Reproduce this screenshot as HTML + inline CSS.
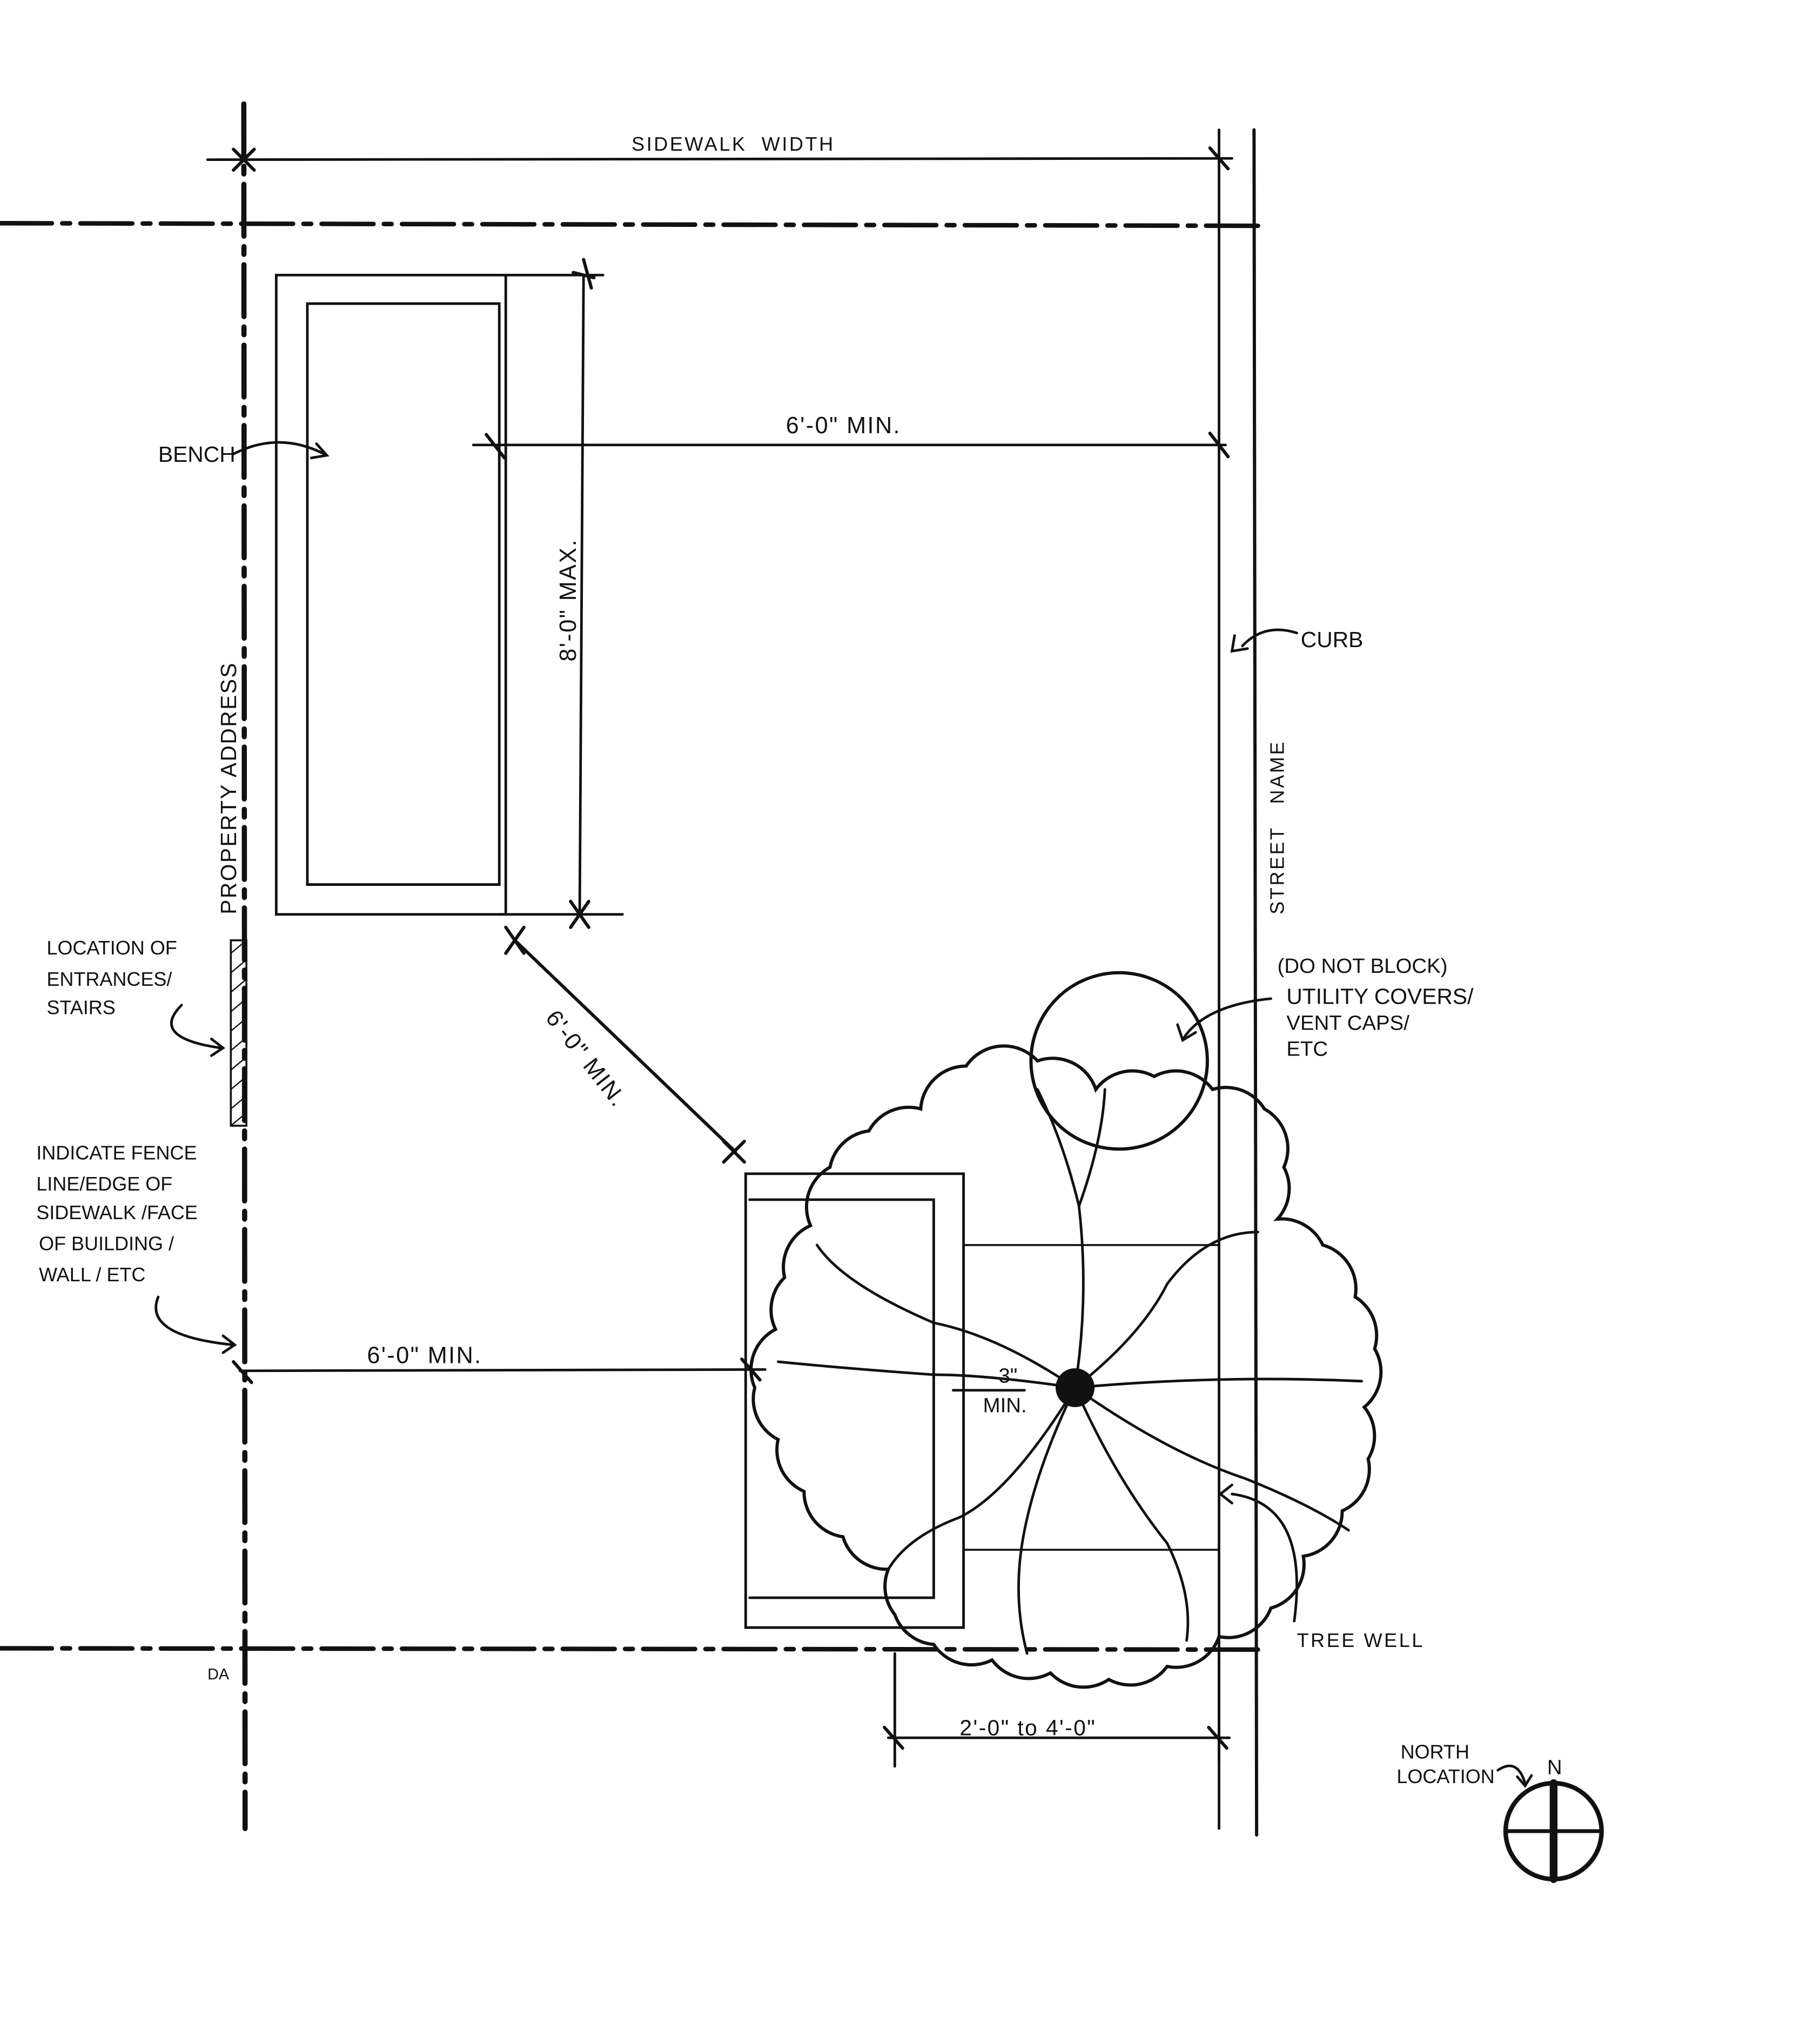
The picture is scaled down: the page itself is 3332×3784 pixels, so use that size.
<!DOCTYPE html>
<html><head><meta charset="utf-8">
<style>
html,body{margin:0;padding:0;background:#fff;}
svg{display:block;}
text{font-family:"Liberation Sans",sans-serif;fill:#111;}
</style></head>
<body>
<svg width="3332" height="3784" viewBox="0 0 1388 1576" xmlns="http://www.w3.org/2000/svg">
<rect width="1388" height="1576" fill="#fff"/>
<g stroke="#111" fill="none" stroke-linecap="round">
<line x1="188" y1="80" x2="189" y2="1410" stroke-width="4" stroke-dasharray="40,8,6,8"/>
<line x1="940" y1="100" x2="940" y2="1410" stroke-width="2"/>
<line x1="967" y1="100" x2="969" y2="1415" stroke-width="2.5"/>
<line x1="0" y1="172" x2="975" y2="174" stroke-width="3.5" stroke-dasharray="40,8,6,8"/>
<line x1="0" y1="1271" x2="970" y2="1272" stroke-width="3.5" stroke-dasharray="40,8,6,8"/>
<line x1="160" y1="123" x2="950" y2="122" stroke-width="2"/>
<path d="M180 115 l16 16 M180 131 l16 -16 M933 114 l14 16" stroke-width="2.5"/>
<path d="M213 705 V212 H390 V705 Z" stroke-width="2"/>
<path d="M237 682 V234 H385 V682 Z" stroke-width="2"/>
<line x1="450" y1="212" x2="447" y2="705" stroke-width="2"/>
<line x1="390" y1="212" x2="465" y2="212" stroke-width="2"/>
<line x1="385" y1="705" x2="480" y2="705" stroke-width="2"/>
<path d="M450 200 l6 22 M442 210 l16 4 M440 695 l14 20 M440 715 l14 -20" stroke-width="2.5"/>
<line x1="365" y1="343" x2="945" y2="343" stroke-width="2"/>
<path d="M375 335 l14 18 M933 334 l14 18" stroke-width="2.5"/>
<line x1="397" y1="725" x2="567" y2="888" stroke-width="2.5"/>
<path d="M390 715 l14 20 M390 735 l14 -20 M558 880 l16 16 M558 896 l16 -16" stroke-width="2.5"/>
<line x1="185" y1="1057" x2="590" y2="1056" stroke-width="2"/>
<path d="M180 1050 l14 16 M572 1048 l14 16" stroke-width="2.5"/>
<path d="M575 905 V1255 H743 V905 Z" stroke-width="2"/>
<path d="M578 925 H720 V1232 H578" stroke-width="2"/>
<line x1="743" y1="960" x2="940" y2="960" stroke-width="1.5"/>
<line x1="743" y1="1195" x2="940" y2="1195" stroke-width="1.5"/>
<line x1="735" y1="1072" x2="790" y2="1072" stroke-width="2"/>
<line x1="690" y1="1275" x2="690" y2="1362" stroke-width="2"/>
<line x1="940" y1="1280" x2="940" y2="1358" stroke-width="2"/>
<line x1="685" y1="1340" x2="948" y2="1340" stroke-width="2"/>
<path d="M682 1332 l14 16 M932 1332 l14 16" stroke-width="2.5"/>
<circle cx="863" cy="818" r="68" stroke-width="2.5"/>
<path d="M980 770 Q930 775 913 800" stroke-width="2"/><path d="M908 790 l4 12 l10 -6" stroke-width="2"/>
<path stroke-width="2.5" d="M710 855 A35 35 0 0 1 745 822 A35 35 0 0 1 800 818 A35 35 0 0 1 845 840 A35 35 0 0 1 890 830 A35 35 0 0 1 935 840 A35 35 0 0 1 975 855 A35 35 0 0 1 990 900 A35 35 0 0 1 985 940 A35 35 0 0 1 1020 960 A35 35 0 0 1 1045 1000 A35 35 0 0 1 1060 1040 A35 35 0 0 1 1052 1085 A35 35 0 0 1 1055 1125 A35 35 0 0 1 1035 1165 A35 35 0 0 1 1005 1200 A35 35 0 0 1 980 1240 A35 35 0 0 1 940 1262 A35 35 0 0 1 900 1285 A35 35 0 0 1 855 1295 A35 35 0 0 1 810 1290 A35 35 0 0 1 765 1280 A35 35 0 0 1 720 1268 A35 35 0 0 1 690 1245 A35 35 0 0 1 685 1210 A35 35 0 0 1 650 1185 A35 35 0 0 1 620 1150 A35 35 0 0 1 600 1110 A35 35 0 0 1 582 1070 A35 35 0 0 1 598 1025 A35 35 0 0 1 605 985 A35 35 0 0 1 625 945 A35 35 0 0 1 640 900 A35 35 0 0 1 670 872 A35 35 0 0 1 710 855 Z"/>
<g stroke-width="2">
<path d="M829 1070 Q840 1000 832 930 Q820 880 800 840"/>
<path d="M832 930 Q850 880 852 840"/>
<path d="M829 1070 Q880 1030 900 990 Q930 950 970 950"/>
<path d="M829 1070 Q770 1030 720 1020 Q650 990 630 960"/>
<path d="M829 1070 Q940 1060 1050 1065"/>
<path d="M829 1070 Q760 1060 720 1060 Q650 1055 600 1050"/>
<path d="M829 1070 Q860 1140 900 1190 Q920 1230 915 1265"/>
<path d="M829 1070 Q800 1130 790 1180 Q780 1230 792 1275"/>
<path d="M829 1070 Q780 1150 740 1170 Q700 1185 685 1210"/>
<path d="M829 1070 Q900 1120 960 1140 Q1010 1160 1040 1180"/>
</g>
<circle cx="829" cy="1070" r="15" fill="#111" stroke="none"/>
<path d="M180 350 Q215 332 250 350" stroke-width="2"/><path d="M244 342 l8 9 l-12 2" stroke-width="2"/>
<path d="M1000 488 Q975 480 958 498" stroke-width="2"/><path d="M952 490 l-2 12 l12 -2" stroke-width="2"/>
<path d="M140 775 Q115 800 170 808" stroke-width="2"/><path d="M163 801 l9 7 l-9 6" stroke-width="2"/>
<path d="M122 1000 Q110 1030 180 1037" stroke-width="2"/><path d="M172 1030 l9 7 l-9 6" stroke-width="2"/>
<path d="M998 1250 Q1010 1160 950 1152" stroke-width="2"/><path d="M950 1145 l-9 7 l9 7" stroke-width="2"/>
<path d="M1155 1365 Q1170 1355 1176 1375" stroke-width="2"/><path d="M1170 1370 l6 7 l5 -8" stroke-width="2"/>
<rect x="178" y="725" width="12" height="143" stroke-width="1.5"/>
<path d="M178 735 l12 -10 M178 750 l12 -10 M178 765 l12 -10 M178 780 l12 -10 M178 795 l12 -10 M178 810 l12 -10 M178 825 l12 -10 M178 840 l12 -10 M178 855 l12 -10 M178 868 l12 -10" stroke-width="1"/>
<circle cx="1198" cy="1412" r="37" stroke-width="3.5"/>
<line x1="1198" y1="1375" x2="1198" y2="1449" stroke-width="6"/>
<line x1="1161" y1="1412" x2="1235" y2="1412" stroke-width="3"/>
</g>
<g font-size="15">
<text x="487" y="116" letter-spacing="1.5">SIDEWALK&#160; WIDTH</text>
<text x="606" y="334" font-size="18" letter-spacing="1">6'-0" MIN.</text>
<text x="122" y="356" font-size="17">BENCH</text>
<text transform="translate(444,510) rotate(-90)" font-size="18" letter-spacing="1">8'-0" MAX.</text>
<text transform="translate(182,705) rotate(-90)" font-size="17" letter-spacing="1">PROPERTY ADDRESS</text>
<text x="1003" y="499" font-size="17">CURB</text>
<text transform="translate(990,705) rotate(-90)" font-size="15" letter-spacing="1.5">STREET&#160;&#160; NAME</text>
<text x="36" y="736">LOCATION OF</text>
<text x="36" y="760">ENTRANCES/</text>
<text x="36" y="782">STAIRS</text>
<text transform="translate(420,785) rotate(52)" font-size="18" letter-spacing="1">6'-0" MIN.</text>
<text x="985" y="750" font-size="16">(DO NOT BLOCK)</text>
<text x="992" y="774" font-size="17">UTILITY COVERS/</text>
<text x="992" y="794" font-size="16">VENT CAPS/</text>
<text x="992" y="814" font-size="16">ETC</text>
<text x="28" y="894">INDICATE FENCE</text>
<text x="28" y="918">LINE/EDGE OF</text>
<text x="28" y="940">SIDEWALK /FACE</text>
<text x="30" y="964">OF BUILDING /</text>
<text x="30" y="988">WALL / ETC</text>
<text x="283" y="1051" font-size="18" letter-spacing="1">6'-0" MIN.</text>
<text x="770" y="1066" font-size="16">3"</text>
<text x="758" y="1089" font-size="16">MIN.</text>
<text x="1000" y="1270" letter-spacing="1.5">TREE WELL</text>
<text x="160" y="1295" font-size="12">DA</text>
<text x="740" y="1338" font-size="17" letter-spacing="1">2'-0" to 4'-0"</text>
<text x="1080" y="1356" font-size="15">NORTH</text>
<text x="1077" y="1375" font-size="15">LOCATION</text>
<text x="1193" y="1368" font-size="16">N</text>
</g>
</svg>
</body></html>
